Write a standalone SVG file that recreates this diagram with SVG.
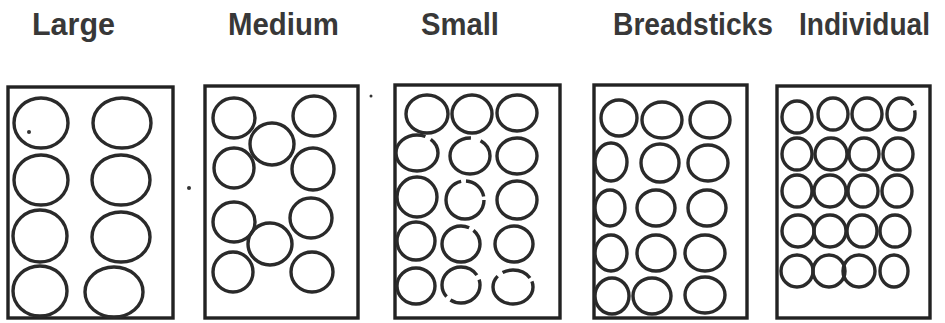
<svg xmlns="http://www.w3.org/2000/svg" width="945" height="323" viewBox="0 0 945 323">
<style>
.lbl{font-family:"Liberation Sans",Arial,sans-serif;font-size:31px;font-weight:bold;fill:#383838}
.box{fill:none;stroke:#222;stroke-width:3.4}
.c{fill:none;stroke:#2a2a2a;stroke-width:3.4}
.dot{fill:#333}
</style>
<rect width="945" height="323" fill="#fff"/>
<g id="labels">
<text class="lbl" x="32" y="35" textLength="83" lengthAdjust="spacingAndGlyphs">Large</text>
<text class="lbl" x="228" y="35" textLength="111" lengthAdjust="spacingAndGlyphs">Medium</text>
<text class="lbl" x="421" y="35" textLength="78" lengthAdjust="spacingAndGlyphs">Small</text>
<text class="lbl" x="613" y="35" textLength="160" lengthAdjust="spacingAndGlyphs">Breadsticks</text>
<text class="lbl" x="799" y="35" textLength="131" lengthAdjust="spacingAndGlyphs">Individual</text>
</g>
<g id="large">
<rect class="box" x="8" y="87" width="165" height="231"/>
<ellipse class="c" cx="41" cy="123" rx="27" ry="25"/>
<ellipse class="c" cx="122" cy="123" rx="29" ry="25"/>
<ellipse class="c" cx="41" cy="180" rx="27" ry="25"/>
<ellipse class="c" cx="121" cy="180" rx="29" ry="25"/>
<ellipse class="c" cx="40" cy="236" rx="27" ry="26"/>
<ellipse class="c" cx="121" cy="237" rx="29" ry="25"/>
<ellipse class="c" cx="40" cy="291" rx="27" ry="25"/>
<ellipse class="c" cx="114" cy="292" rx="29" ry="25"/>
<circle class="dot" cx="29" cy="132" r="2"/>
</g>
<g id="medium">
<rect class="box" x="205" y="86" width="153" height="232"/>
<ellipse class="c" cx="234" cy="118" rx="21" ry="20"/>
<ellipse class="c" cx="314" cy="116" rx="21" ry="20"/>
<ellipse class="c" cx="272" cy="144" rx="22" ry="21"/>
<ellipse class="c" cx="234" cy="168" rx="20" ry="20"/>
<ellipse class="c" cx="313" cy="169" rx="21" ry="21"/>
<ellipse class="c" cx="234" cy="222" rx="21" ry="20"/>
<ellipse class="c" cx="311" cy="218" rx="21" ry="20"/>
<ellipse class="c" cx="270" cy="244" rx="22" ry="21"/>
<ellipse class="c" cx="233" cy="272" rx="20" ry="20"/>
<ellipse class="c" cx="312" cy="272" rx="21" ry="20"/>
</g>
<g id="small">
<rect class="box" x="395" y="85" width="165" height="233"/>
<ellipse class="c" cx="427" cy="114" rx="21" ry="19"/>
<ellipse class="c" cx="472" cy="114" rx="20" ry="19"/>
<ellipse class="c" cx="517" cy="113" rx="20" ry="18"/>
<ellipse class="c" cx="417" cy="153" rx="21" ry="18" stroke-dasharray="100 6"/>
<ellipse class="c" cx="470" cy="156" rx="20" ry="18" stroke-dasharray="90 10"/>
<ellipse class="c" cx="517" cy="156" rx="20" ry="18"/>
<ellipse class="c" cx="417" cy="197" rx="20" ry="20"/>
<ellipse class="c" cx="465" cy="200" rx="19" ry="19" stroke-dasharray="85 5 25 5"/>
<ellipse class="c" cx="517" cy="200" rx="20" ry="19"/>
<ellipse class="c" cx="416" cy="241" rx="19" ry="19"/>
<ellipse class="c" cx="461" cy="244" rx="19" ry="18" stroke-dasharray="95 5"/>
<ellipse class="c" cx="514" cy="244" rx="19" ry="18"/>
<ellipse class="c" cx="416" cy="286" rx="19" ry="18"/>
<ellipse class="c" cx="461" cy="285" rx="19" ry="18" stroke-dasharray="40 5 60 5"/>
<ellipse class="c" cx="513" cy="287" rx="20" ry="17" stroke-dasharray="70 6 30 4"/>
</g>
<g id="breadsticks">
<rect class="box" x="594" y="85" width="153" height="233"/>
<ellipse class="c" cx="619" cy="118" rx="18" ry="18"/>
<ellipse class="c" cx="662" cy="120" rx="20" ry="18"/>
<ellipse class="c" cx="710" cy="120" rx="20" ry="18"/>
<ellipse class="c" cx="611" cy="162" rx="16" ry="19"/>
<ellipse class="c" cx="660" cy="163" rx="19" ry="19"/>
<ellipse class="c" cx="708" cy="163" rx="20" ry="18"/>
<ellipse class="c" cx="610" cy="208" rx="15" ry="18"/>
<ellipse class="c" cx="656" cy="208" rx="19" ry="18"/>
<ellipse class="c" cx="707" cy="208" rx="19" ry="18"/>
<ellipse class="c" cx="611" cy="253" rx="16" ry="18"/>
<ellipse class="c" cx="656" cy="253" rx="19" ry="18"/>
<ellipse class="c" cx="705" cy="253" rx="20" ry="18"/>
<ellipse class="c" cx="612" cy="296" rx="17" ry="18"/>
<ellipse class="c" cx="652" cy="296" rx="19" ry="18"/>
<ellipse class="c" cx="705" cy="295" rx="20" ry="18"/>
</g>
<g id="individual">
<rect class="box" x="777" y="86" width="153" height="232"/>
<ellipse class="c" cx="797" cy="117" rx="15" ry="16"/>
<ellipse class="c" cx="833" cy="114" rx="15" ry="16"/>
<ellipse class="c" cx="867" cy="114" rx="15" ry="16"/>
<ellipse class="c" cx="901" cy="114" rx="14" ry="16" stroke-dasharray="85 5"/>
<ellipse class="c" cx="797" cy="154" rx="15" ry="16"/>
<ellipse class="c" cx="831" cy="154" rx="16" ry="16"/>
<ellipse class="c" cx="864" cy="154" rx="15" ry="16"/>
<ellipse class="c" cx="898" cy="154" rx="15" ry="16"/>
<ellipse class="c" cx="797" cy="191" rx="15" ry="16"/>
<ellipse class="c" cx="830" cy="191" rx="16" ry="16"/>
<ellipse class="c" cx="863" cy="191" rx="15" ry="16"/>
<ellipse class="c" cx="897" cy="191" rx="15" ry="16"/>
<ellipse class="c" cx="798" cy="231" rx="16" ry="16"/>
<ellipse class="c" cx="830" cy="231" rx="16" ry="16"/>
<ellipse class="c" cx="862" cy="231" rx="15" ry="16"/>
<ellipse class="c" cx="895" cy="231" rx="15" ry="16"/>
<ellipse class="c" cx="797" cy="271" rx="16" ry="16"/>
<ellipse class="c" cx="829" cy="271" rx="16" ry="16"/>
<ellipse class="c" cx="859" cy="271" rx="16" ry="16"/>
<ellipse class="c" cx="894" cy="271" rx="14" ry="16"/>
</g>
<g id="specks">
<circle class="dot" cx="189" cy="188" r="2"/>
<circle class="dot" cx="371" cy="96" r="1.5"/>
</g>
</svg>
